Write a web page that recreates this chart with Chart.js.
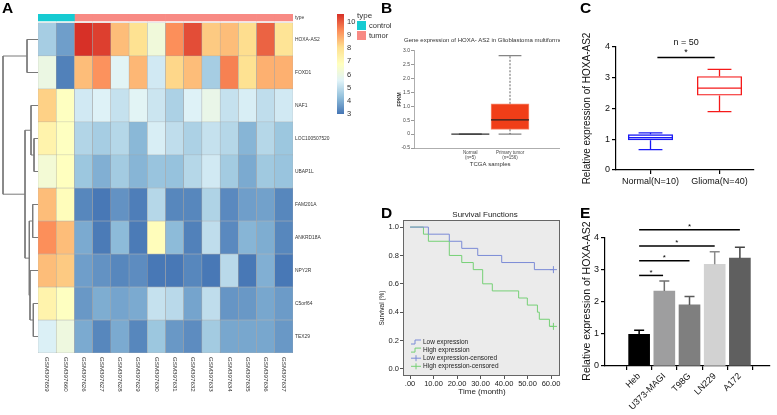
<!DOCTYPE html>
<html>
<head>
<meta charset="utf-8">
<script src="https://cdn.jsdelivr.net/npm/chart.js@4.4.1/dist/chart.umd.min.js"></script>
<style>
html, body { margin: 0; padding: 0; background: #fff; }
#wrap { position: relative; width: 777px; height: 415px; overflow: hidden; font-family: "Liberation Sans", Arial, sans-serif; }
canvas { position: absolute; }
.lbl { position: absolute; font-weight: bold; font-size: 15.5px; line-height: 16px; color: #000; }
</style>
</head>
<body>
<div id="wrap">
  <canvas id="dendro" width="38" height="415" style="left:0;top:0"></canvas>
  <canvas id="heat" width="345" height="415" style="left:0;top:0"></canvas>
  <canvas id="cbar" width="110" height="130" style="left:330px;top:0"></canvas>
  <canvas id="panelB" width="190" height="145" style="left:370px;top:30px"></canvas>
  <canvas id="panelC" width="217" height="210" style="left:560px;top:0"></canvas>
  <canvas id="panelD" width="210" height="210" style="left:360px;top:205px"></canvas>
  <canvas id="panelE" width="217" height="210" style="left:560px;top:205px"></canvas>
  <div class="lbl" style="left:2px;top:0">A</div>
  <div class="lbl" style="left:381px;top:0">B</div>
  <div class="lbl" style="left:580px;top:0">C</div>
  <div class="lbl" style="left:381px;top:205px">D</div>
  <div class="lbl" style="left:580px;top:205px">E</div>
</div>
<script>
// ---------- data ----------
// A: heatmap
var samples = ['GSM397659','GSM397660','GSM397626','GSM397627','GSM397628','GSM397629','GSM397630',
               'GSM397631','GSM397632','GSM397633','GSM397634','GSM397635','GSM397636','GSM397637'];
var sampleType = ['control','control','tumor','tumor','tumor','tumor','tumor',
                  'tumor','tumor','tumor','tumor','tumor','tumor','tumor'];
var genes = ['HOXA-AS2','FOXD1','NAF1','LOC100507520','UBAP1L','FAM201A','ANKRD18A','NPY2R','C5orf64','TEX29'];
var hoxaAs2      = [4.6, 3.7, 10.6, 10.4, 8.6, 8.0, 6.2, 9.3, 10.2, 8.4, 8.6, 8.1, 9.9, 7.9];
var foxd1        = [6.0, 3.2, 8.6, 9.25, 5.6, 8.7, 5.3, 8.2, 8.6, 4.6, 9.5, 8.0, 8.8, 8.8];
var naf1         = [8.3, 6.75, 5.3, 5.5, 5.1, 5.6, 5.2, 4.7, 5.5, 5.9, 5.1, 5.4, 5.0, 5.3];
var loc100507520 = [7.3, 6.75, 4.8, 4.6, 4.85, 4.15, 5.4, 5.0, 4.7, 5.1, 4.85, 4.1, 4.85, 4.45];
var ubap1l       = [6.3, 6.8, 4.45, 4.0, 4.55, 4.1, 4.4, 4.35, 4.85, 5.3, 4.55, 3.9, 4.5, 4.4];
var fam201a      = [8.6, 6.9, 3.3, 3.05, 3.5, 3.15, 4.85, 3.3, 3.3, 4.75, 3.35, 3.7, 3.75, 3.3];
var ankrd18a     = [9.3, 8.6, 3.9, 3.1, 4.2, 3.1, 6.9, 4.2, 3.2, 5.0, 3.35, 4.1, 3.95, 3.3];
var npy2r        = [8.6, 8.4, 3.7, 3.5, 3.3, 3.4, 3.05, 3.05, 3.3, 3.05, 4.9, 3.05, 4.0, 3.05];
var c5orf64      = [7.3, 6.75, 3.6, 3.95, 3.8, 3.9, 5.1, 4.9, 3.8, 5.0, 3.55, 3.6, 3.85, 3.65];
var tex29        = [5.45, 6.1, 3.9, 3.3, 3.9, 3.3, 4.45, 3.6, 3.4, 4.55, 3.85, 3.85, 3.85, 3.6];
var heatRows = [hoxaAs2, foxd1, naf1, loc100507520, ubap1l, fam201a, ankrd18a, npy2r, c5orf64, tex29];
// row clustering: [left, right, merge height]; 'mN' = result of merge N
var dendroMerges = [
  ['HOXA-AS2', 'FOXD1', 11],
  ['LOC100507520', 'UBAP1L', 4],
  ['NAF1', 'm1', 7],
  ['FAM201A', 'ANKRD18A', 5.3],
  ['C5orf64', 'TEX29', 4.7],
  ['NPY2R', 'm4', 8],
  ['m3', 'm5', 8.7],
  ['m2', 'm6', 13],
  ['m0', 'm7', 35]
];
var heatMin = 3, heatMax = 10.6;

// B: TCGA box plot
var tcgaGroups = ['Normal', 'Primary tumor'];
var tcgaN   = [5, 156];
var tcgaMin = [0, 0];
var tcgaQ1  = [0, 0.17];
var tcgaMed = [0, 0.51];
var tcgaQ3  = [0, 1.09];
var tcgaMax = [0, 2.82];

// C: qPCR box plot
var qpcrGroups = ['Normal(N=10)', 'Glioma(N=40)'];
var qpcrMin = [0.66, 1.9];
var qpcrQ1  = [0.97, 2.42];
var qpcrMed = [1.05, 2.66];
var qpcrQ3  = [1.16, 3.05];
var qpcrMax = [1.21, 3.27];

// D: Kaplan-Meier
var lowTime  = [0, 7.8, 16.7, 22, 28.8, 39, 52.9, 61];
var lowSurv  = [1, 0.95, 0.9, 0.85, 0.8, 0.75, 0.7, 0.7];
var highTime = [0, 5.7, 7.8, 16.7, 22, 26.9, 30.9, 35, 46.2, 49.9, 54.2, 55, 59.3, 61];
var highSurv = [1, 0.95, 0.9, 0.8, 0.75, 0.7, 0.6, 0.55, 0.5, 0.45, 0.4, 0.35, 0.3, 0.3];
var timeTicks = [0, 10, 20, 30, 40, 50, 60];
var survTicks = [0, 0.2, 0.4, 0.6, 0.8, 1.0];

// E: cell lines
var cellLines = ['Heb', 'U373-MAGI', 'T98G', 'LN229', 'A172'];
var cellMean  = [0.99, 2.34, 1.91, 3.18, 3.37];
var cellErr   = [0.13, 0.32, 0.26, 0.39, 0.34];
var sigTo     = [0.95, 2, 3, 4];
var sigLevel  = [2.83, 3.29, 3.75, 4.26];

// ---------- helpers ----------
var FONT = "'Liberation Sans', Arial, sans-serif";
Chart.defaults.font.family = FONT;
Chart.defaults.color = '#222';
Chart.defaults.animation = false;
Chart.defaults.responsive = false;
Chart.defaults.plugins.legend.display = false;
Chart.defaults.plugins.tooltip.enabled = false;

function el(id) { return document.getElementById(id); }

function text(ctx, s, x, y, size, opt) {
  opt = opt || {};
  ctx.save();
  ctx.font = (opt.weight || 'normal') + ' ' + size + 'px ' + FONT;
  ctx.fillStyle = opt.color || '#222';
  ctx.textAlign = opt.align || 'center';
  ctx.textBaseline = opt.base || 'middle';
  ctx.translate(x, y);
  if (opt.rot) ctx.rotate(opt.rot);
  ctx.fillText(s, 0, 0);
  ctx.restore();
}

var heatStops = ['#4575B4', '#91BFDB', '#E0F3F8', '#FFFFBF', '#FEE090', '#FC8D59', '#D73027'];
var typeColors = { control: '#16CBD2', tumor: '#F88A84' };

function hexRgb(c) { return [1, 3, 5].map(function (i) { return parseInt(c.substr(i, 2), 16); }); }
function heatColor(v) {
  var t = Math.min(Math.max((v - heatMin) / (heatMax - heatMin), 0), 1) * (heatStops.length - 1);
  var i = Math.min(Math.floor(t), heatStops.length - 2), f = t - i;
  var a = hexRgb(heatStops[i]), b = hexRgb(heatStops[i + 1]);
  return 'rgb(' + a.map(function (c, j) { return Math.round(c + (b[j] - c) * f); }).join(',') + ')';
}

// whiskers, caps and median for floating bars used as boxes
var boxPlugin = {
  id: 'boxes',
  afterDatasetsDraw: function (chart) {
    var ctx = chart.ctx, ys = chart.scales.y;
    chart.data.datasets.forEach(function (ds, di) {
      var b = ds.box;
      if (!b) return;
      chart.getDatasetMeta(di).data.forEach(function (bar, i) {
        var cx = bar.x, half = bar.width / 2, cap = half * b.cap;
        var py = function (v) { return ys.getPixelForValue(v); };
        var col = b.color[i];
        ctx.save();
        ctx.strokeStyle = col;
        ctx.lineWidth = b.lw;
        ctx.setLineDash(b.dash || []);
        ctx.beginPath();
        ctx.moveTo(cx, py(b.q3[i])); ctx.lineTo(cx, py(b.max[i]));
        ctx.moveTo(cx, py(b.q1[i])); ctx.lineTo(cx, py(b.min[i]));
        ctx.stroke();
        ctx.setLineDash([]);
        ctx.lineWidth = b.capw || b.lw;
        ctx.beginPath();
        [b.max[i], b.min[i]].forEach(function (v) { ctx.moveTo(cx - cap, py(v)); ctx.lineTo(cx + cap, py(v)); });
        ctx.stroke();
        ctx.strokeStyle = b.medColor ? b.medColor[i] : col;
        ctx.lineWidth = b.mw || b.lw;
        ctx.beginPath();
        ctx.moveTo(cx - half, py(b.med[i])); ctx.lineTo(cx + half, py(b.med[i]));
        ctx.stroke();
        ctx.restore();
      });
    });
  }
};

// significance bars
var sigPlugin = {
  id: 'sig',
  afterDraw: function (chart, args, o) {
    if (!o.from) return;
    var xs = chart.scales.x, ys = chart.scales.y, ctx = chart.ctx;
    o.from.forEach(function (f, i) {
      var y = ys.getPixelForValue(o.level[i]);
      var x1 = xs.getPixelForValue(f), x2 = xs.getPixelForValue(o.to[i]);
      ctx.save();
      ctx.strokeStyle = '#000';
      ctx.lineWidth = 1.5;
      ctx.beginPath(); ctx.moveTo(x1, y); ctx.lineTo(x2, y); ctx.stroke();
      ctx.restore();
      text(ctx, '*', (x1 + x2) / 2, y - o.starGap, o.starSize, { color: '#000' });
    });
  }
};

// ---------- A: dendrogram ----------
(function () {
  var pos = {};
  genes.forEach(function (g, k) { pos[g] = { y: genes.length - 0.5 - k, h: 0 }; });
  var sets = dendroMerges.map(function (m, i) {
    var a = pos[m[0]], b = pos[m[1]], h = m[2];
    pos['m' + i] = { y: (a.y + b.y) / 2, h: h };
    return {
      data: [{ x: a.h, y: a.y }, { x: h, y: a.y }, { x: h, y: b.y }, { x: b.h, y: b.y }],
      showLine: true, borderColor: '#7a7a7a', borderWidth: 1, pointRadius: 0, fill: false, clip: false
    };
  });
  new Chart(el('dendro'), {
    type: 'scatter',
    data: { datasets: sets },
    options: {
      layout: { padding: { top: 23, bottom: 62 } },
      scales: {
        x: { display: false, min: 0, max: 38, reverse: true },
        y: { display: false, min: 0, max: genes.length }
      }
    }
  });
})();

// ---------- A: heatmap ----------
(function () {
  var typeBand = [10.06, 10.27];
  var sets = heatRows.map(function (vals, k) {
    return {
      label: genes[k],
      data: vals.map(function () { return [genes.length - 1 - k, genes.length - k]; }),
      backgroundColor: vals.map(heatColor),
      borderColor: '#A3A3A3', borderWidth: 0.5, borderSkipped: false
    };
  });
  ['control', 'tumor'].forEach(function (t) {
    sets.push({
      label: t,
      data: sampleType.map(function (s) { return s === t ? typeBand : null; }),
      backgroundColor: typeColors[t], borderWidth: 0
    });
  });
  var colLabels = {
    id: 'colLabels',
    afterDraw: function (chart) {
      var xs = chart.scales.x, top = chart.chartArea.bottom + 4;
      samples.forEach(function (s, i) {
        text(chart.ctx, s, xs.getPixelForValue(i), top, 6.2, { align: 'left', rot: Math.PI / 2, color: '#333' });
      });
    }
  };
  new Chart(el('heat'), {
    type: 'bar',
    data: { labels: samples, datasets: sets },
    options: {
      datasets: { bar: { barPercentage: 1, categoryPercentage: 1, grouped: false } },
      layout: { padding: { left: 38, top: 14, bottom: 62 } },
      scales: {
        x: { display: false },
        y: {
          position: 'right', min: 0, max: typeBand[1],
          afterBuildTicks: function (s) {
            var t = genes.map(function (g, k) { return { value: genes.length - 0.5 - k }; }).reverse();
            t.push({ value: (typeBand[0] + typeBand[1]) / 2 });
            s.ticks = t;
          },
          afterFit: function (s) { s.width = 52; },
          grid: { display: false, drawTicks: false },
          border: { display: false },
          ticks: {
            autoSkip: false, padding: 2, color: '#333', font: { size: 4.9 },
            callback: function (v) { return v > genes.length ? 'type' : genes[Math.round(genes.length - 0.5 - v)]; }
          }
        }
      }
    },
    plugins: [colLabels]
  });
})();

// ---------- A: colour key + type legend ----------
(function () {
  var typeLegend = {
    id: 'typeLegend',
    afterDraw: function (chart) {
      var ctx = chart.ctx;
      text(ctx, 'type', 27, 16, 8, { align: 'left', color: '#333' });
      ['control', 'tumor'].forEach(function (t, i) {
        ctx.fillStyle = typeColors[t];
        ctx.fillRect(27, 21 + i * 10, 9, 9);
        text(ctx, t, 39, 25.5 + i * 10, 7.5, { align: 'left', color: '#333' });
      });
    }
  };
  new Chart(el('cbar'), {
    type: 'bar',
    data: {
      labels: [''],
      datasets: [{
        data: [[heatMin, heatMax]],
        barPercentage: 1, categoryPercentage: 1, borderWidth: 0,
        backgroundColor: function (c) {
          var a = c.chart.chartArea;
          if (!a) return heatStops[0];
          var g = c.chart.ctx.createLinearGradient(0, a.bottom, 0, a.top);
          heatStops.forEach(function (s, i) { g.addColorStop(i / (heatStops.length - 1), s); });
          return g;
        }
      }]
    },
    options: {
      layout: { padding: { left: 7, top: 14, bottom: 16 } },
      scales: {
        x: { display: false },
        y: {
          position: 'right', min: heatMin, max: heatMax,
          afterFit: function (s) { s.width = 96; },
          grid: { display: false, drawTicks: false }, border: { display: false },
          ticks: { stepSize: 1, includeBounds: false, padding: 3, color: '#333', font: { size: 7.5 } }
        }
      }
    },
    plugins: [typeLegend]
  });
})();

// ---------- B ----------
(function () {
  var bText = {
    id: 'bText',
    afterDraw: function (chart) {
      var ctx = chart.ctx, a = chart.chartArea, xs = chart.scales.x;
      text(ctx, 'Gene expression of HOXA- AS2 in Glioblastoma multiforme', 34, 10, 6, { align: 'left', color: '#333' });
      text(ctx, 'FPKM', 30, (a.top + a.bottom) / 2, 5, { weight: 'bold', rot: -Math.PI / 2, color: '#333' });
      text(ctx, 'TCGA samples', (xs.getPixelForValue(0) + xs.getPixelForValue(1)) / 2, 134, 6, { color: '#333' });
    }
  };
  new Chart(el('panelB'), {
    type: 'bar',
    data: {
      datasets: [{
        data: tcgaGroups.map(function (g, i) { return { x: i, y: [tcgaQ1[i], tcgaQ3[i]] }; }),
        backgroundColor: ['rgba(0,0,0,0)', '#F03E18'],
        borderColor: ['rgba(0,0,0,0)', '#F7896C'],
        borderWidth: 1, borderSkipped: false, barThickness: 38,
        box: { min: tcgaMin, q1: tcgaQ1, med: tcgaMed, q3: tcgaQ3, max: tcgaMax,
               color: ['#333', '#222'], lw: 0.7, dash: [2, 1.5], cap: 0.6, mw: 1.2 }
      }]
    },
    options: {
      layout: { padding: { top: 20.7 } },
      scales: {
        x: {
          type: 'linear', min: -0.5, max: 1.34,
          afterBuildTicks: function (s) { s.ticks = tcgaGroups.map(function (g, i) { return { value: i }; }); },
          afterFit: function (s) { s.height = 27; },
          grid: { display: false, drawTicks: false, tickLength: 0 },
          border: { color: '#999', width: 0.8 },
          ticks: { maxRotation: 0, padding: 3, color: '#444', font: { size: 4.5, lineHeight: 1.0 },
                   callback: function (v) { return [tcgaGroups[v], '(n=' + tcgaN[v] + ')']; } }
        },
        y: {
          min: -0.5, max: 3,
          afterFit: function (s) { s.width = 44; },
          grid: { drawOnChartArea: false, tickLength: 3, color: '#999' },
          border: { color: '#999', width: 0.8 },
          ticks: { stepSize: 0.5, padding: 1, color: '#444', font: { size: 5 } }
        }
      }
    },
    plugins: [boxPlugin, bText]
  });
})();

// ---------- C ----------
(function () {
  var cText = {
    id: 'cText',
    afterDraw: function (chart) {
      var ctx = chart.ctx, a = chart.chartArea, xs = chart.scales.x, ys = chart.scales.y;
      text(ctx, 'Relative expression of HOXA-AS2', 27, (a.top + a.bottom) / 2, 10, { rot: -Math.PI / 2, color: '#111' });
      text(ctx, 'n = 50', (xs.getPixelForValue(0.1) + xs.getPixelForValue(0.93)) / 2, ys.getPixelForValue(3.66) - 15, 9, { color: '#111' });
    }
  };
  new Chart(el('panelC'), {
    type: 'bar',
    data: {
      labels: qpcrGroups,
      datasets: [{
        data: qpcrQ1.map(function (v, i) { return [v, qpcrQ3[i]]; }),
        backgroundColor: 'rgba(255,255,255,0)',
        borderColor: ['#1A1AF5', '#F51A1A'],
        borderWidth: 1.3, borderSkipped: false, barPercentage: 0.652, categoryPercentage: 1,
        box: { min: qpcrMin, q1: qpcrQ1, med: qpcrMed, q3: qpcrQ3, max: qpcrMax,
               color: ['#1A1AF5', '#F51A1A'], lw: 1.3, cap: 0.53 }
      }]
    },
    options: {
      layout: { padding: { top: 47, right: 23 } },
      plugins: { sig: { from: [0.1], to: [0.93], level: [3.66], starGap: 4.5, starSize: 9 } },
      scales: {
        x: {
          afterFit: function (s) { s.height = 40; },
          grid: { offset: false, drawOnChartArea: false, tickLength: 4, color: '#000', lineWidth: 1.2 },
          border: { color: '#000', width: 1.2 },
          ticks: { padding: 2, color: '#111', font: { size: 9 } }
        },
        y: {
          min: 0, max: 4,
          afterFit: function (s) { s.width = 56; },
          grid: { drawOnChartArea: false, tickLength: 4, color: '#000', lineWidth: 1.2 },
          border: { color: '#000', width: 1.2 },
          ticks: { stepSize: 1, padding: 2, color: '#111', font: { size: 9 } }
        }
      }
    },
    plugins: [boxPlugin, sigPlugin, cText]
  });
})();

// ---------- D ----------
(function () {
  var lowColor = '#7B8BD6', highColor = '#76D076';
  function survSet(label, t, s, color) {
    return {
      label: label,
      data: t.map(function (x, i) { return { x: x, y: s[i] }; }),
      borderColor: color, backgroundColor: color, borderWidth: 1, stepped: true, fill: false,
      pointStyle: 'cross', pointBorderWidth: 1,
      pointRadius: t.map(function (x, i) { return i === t.length - 1 ? 3.5 : 0; })
    };
  }
  var dDeco = {
    id: 'dDeco',
    beforeDraw: function (chart) {
      var a = chart.chartArea, ctx = chart.ctx;
      ctx.save();
      ctx.fillStyle = '#EBEBEB';
      ctx.fillRect(a.left, a.top, a.width, a.height);
      ctx.restore();
    },
    afterDraw: function (chart) {
      var a = chart.chartArea, ctx = chart.ctx;
      ctx.save();
      ctx.strokeStyle = '#666';
      ctx.lineWidth = 1;
      ctx.strokeRect(a.left + 0.5, a.top + 0.5, a.width - 1, a.height - 1);
      ctx.restore();
      text(ctx, 'Survival Functions', 125, 10, 8, { color: '#222' });
      text(ctx, 'Time (month)', 122, 187, 8, { color: '#222' });
      text(ctx, 'Survival (%)', 22, 103, 6.5, { rot: -Math.PI / 2, color: '#222' });
      // legend
      var x0 = a.left + 8;
      var items = [
        { label: chart.data.datasets[0].label, color: lowColor, step: true },
        { label: chart.data.datasets[1].label, color: highColor, step: true },
        { label: chart.data.datasets[0].label + '-censored', color: lowColor },
        { label: chart.data.datasets[1].label + '-censored', color: highColor }
      ];
      items.forEach(function (it, i) {
        var y = a.bottom - 34 + i * 8.1;
        ctx.save();
        ctx.strokeStyle = it.color;
        ctx.lineWidth = 1;
        ctx.beginPath();
        if (it.step) {
          ctx.moveTo(x0, y + 2); ctx.lineTo(x0 + 4, y + 2); ctx.lineTo(x0 + 4, y - 2); ctx.lineTo(x0 + 10, y - 2);
        } else {
          ctx.moveTo(x0, y); ctx.lineTo(x0 + 10, y); ctx.moveTo(x0 + 5, y - 3); ctx.lineTo(x0 + 5, y + 3);
        }
        ctx.stroke();
        ctx.restore();
        text(ctx, it.label, x0 + 12, y, 6.5, { align: 'left', color: '#222' });
      });
    }
  };
  new Chart(el('panelD'), {
    type: 'line',
    data: {
      datasets: [
        survSet('Low expression', lowTime, lowSurv, lowColor),
        survSet('High expression', highTime, highSurv, highColor)
      ]
    },
    options: {
      layout: { padding: { top: 15, right: 10 } },
      scales: {
        x: {
          type: 'linear', min: -3, max: 63.8,
          afterBuildTicks: function (s) { s.ticks = timeTicks.map(function (v) { return { value: v }; }); },
          afterFit: function (s) { s.height = 39; },
          grid: { drawOnChartArea: false, tickLength: 3, color: '#555' },
          border: { display: false },
          ticks: { maxRotation: 0, padding: 0, color: '#222', font: { size: 7.5 },
                   callback: function (v) { return v === 0 ? '.00' : v.toFixed(2); } }
        },
        y: {
          min: -0.05, max: 1.05,
          afterBuildTicks: function (s) { s.ticks = survTicks.map(function (v) { return { value: v }; }); },
          afterFit: function (s) { s.width = 43; },
          grid: { drawOnChartArea: false, tickLength: 3, color: '#555' },
          border: { display: false },
          ticks: { padding: 1, color: '#222', font: { size: 7.5 },
                   callback: function (v) { return v.toFixed(1); } }
        }
      }
    },
    plugins: [dDeco]
  });
})();

// ---------- E ----------
(function () {
  var barColors = ['#000000', '#9E9E9F', '#7F7F7F', '#D2D2D2', '#5F5F5F'];
  var errColors = ['#000000', '#707070', '#5A5A5A', '#8A8A8A', '#444444'];
  var errPlugin = {
    id: 'errs',
    afterDatasetsDraw: function (chart) {
      var ctx = chart.ctx, ys = chart.scales.y;
      chart.getDatasetMeta(0).data.forEach(function (bar, i) {
        var top = ys.getPixelForValue(cellMean[i] + cellErr[i]);
        ctx.save();
        ctx.strokeStyle = errColors[i];
        ctx.lineWidth = 1.5;
        ctx.beginPath();
        ctx.moveTo(bar.x, bar.y); ctx.lineTo(bar.x, top);
        ctx.moveTo(bar.x - 5, top); ctx.lineTo(bar.x + 5, top);
        ctx.stroke();
        ctx.restore();
      });
    }
  };
  var eText = {
    id: 'eText',
    afterDraw: function (chart) {
      var a = chart.chartArea;
      text(chart.ctx, 'Relative expression of HOXA-AS2', 27, (a.top + a.bottom) / 2 - 1, 10.5, { rot: -Math.PI / 2, color: '#111' });
    }
  };
  new Chart(el('panelE'), {
    type: 'bar',
    data: {
      datasets: [{
        data: cellMean.map(function (v, i) { return { x: i, y: v }; }),
        backgroundColor: barColors, borderWidth: 0, barThickness: 21
      }]
    },
    options: {
      layout: { padding: { top: 33, right: 7 } },
      plugins: { sig: { from: sigTo.map(function () { return 0; }), to: sigTo, level: sigLevel, starGap: 3, starSize: 8 } },
      scales: {
        x: {
          type: 'linear', min: -0.7, max: 4.54,
          afterBuildTicks: function (s) { s.ticks = cellLines.map(function (c, i) { return { value: i }; }); },
          afterFit: function (s) { s.height = 49; },
          grid: { drawOnChartArea: false, tickLength: 4, color: '#000', lineWidth: 1.2 },
          border: { color: '#000', width: 1.2 },
          ticks: { minRotation: 45, maxRotation: 45, padding: 1, color: '#111', font: { size: 9 },
                   callback: function (v) { return cellLines[v]; } }
        },
        y: {
          min: 0, max: 4,
          afterFit: function (s) { s.width = 45; },
          grid: { drawOnChartArea: false, tickLength: 4, color: '#000', lineWidth: 1.2 },
          border: { color: '#000', width: 1.2 },
          ticks: { stepSize: 1, padding: 2, color: '#111', font: { size: 9 } }
        }
      }
    },
    plugins: [errPlugin, sigPlugin, eText]
  });
})();
</script>
</body>
</html>
